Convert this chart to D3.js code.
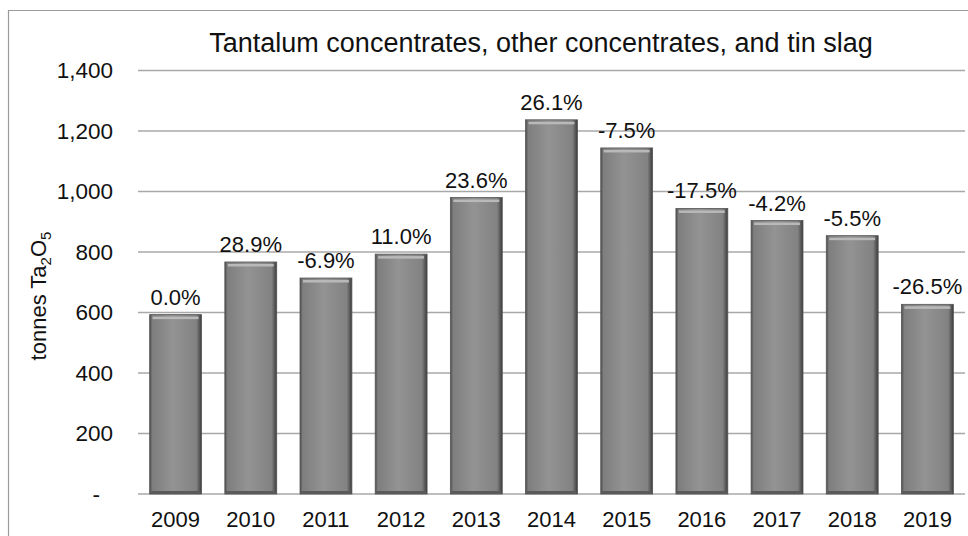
<!DOCTYPE html>
<html>
<head>
<meta charset="utf-8">
<script src="https://cdn.jsdelivr.net/npm/d3@7"></script>
<style>
  html, body { margin: 0; padding: 0; background: #fff; }
  text { font-family: Arial, "Liberation Sans", sans-serif; fill: #111; }
</style>
</head>
<body>
<svg id="chart" width="968" height="536"></svg>
<script>
// data
var years = ["2009", "2010", "2011", "2012", "2013", "2014", "2015", "2016", "2017", "2018", "2019"];
var tonnes = [593, 767, 714, 793, 980, 1237, 1144, 944, 904, 854, 627];
var changeLabels = ["0.0%", "28.9%", "-6.9%", "11.0%", "23.6%", "26.1%", "-7.5%", "-17.5%", "-4.2%", "-5.5%", "-26.5%"];
var yTicks = [0, 200, 400, 600, 800, 1000, 1200, 1400];

var svg = d3.select("#chart");

var plot = {left: 138, right: 965, top: 70.5, bottom: 494};

// outer frame (runs past the picture on right/bottom)
svg.append("path")
  .attr("d", "M8.5,540 L8.5,10.5 L975,10.5")
  .attr("fill", "none")
  .attr("stroke", "#9a9a9a")
  .attr("stroke-width", 1.2);

var x = d3.scaleBand()
  .domain(years)
  .range([plot.left, plot.right])
  .paddingInner(0.31)
  .paddingOuter(0.155);

var y = d3.scaleLinear()
  .domain([0, 1400])
  .range([plot.bottom, plot.top]);

// bar gradient
var defs = svg.append("defs");
var grad = defs.append("linearGradient").attr("id", "barGrad")
  .attr("x1", "0").attr("x2", "1").attr("y1", "0").attr("y2", "0");
grad.append("stop").attr("offset", "0%").attr("stop-color", "#4a4a4a");
grad.append("stop").attr("offset", "5%").attr("stop-color", "#7e7e7e");
grad.append("stop").attr("offset", "45%").attr("stop-color", "#939393");
grad.append("stop").attr("offset", "90%").attr("stop-color", "#828282");
grad.append("stop").attr("offset", "100%").attr("stop-color", "#3c3c3c");

// gridlines
svg.append("g").selectAll("line")
  .data(yTicks)
  .join("line")
  .attr("x1", plot.left)
  .attr("x2", plot.right)
  .attr("y1", function(d) { return y(d); })
  .attr("y2", function(d) { return y(d); })
  .attr("stroke", "#a8a8a8")
  .attr("stroke-width", 1.5);

// y tick labels
svg.append("g").selectAll("text")
  .data(yTicks)
  .join("text")
  .attr("x", function(d) { return d === 0 ? 100 : 113; })
  .attr("y", function(d) { return y(d); })
  .attr("dy", "0.35em")
  .attr("text-anchor", "end")
  .style("font-size", "22.5px")
  .text(function(d) { return d === 0 ? "-" : d3.format(",")(d); });

// bars
var bars = svg.append("g").selectAll("g")
  .data(years)
  .join("g");

bars.append("rect")
  .attr("x", function(d) { return x(d); })
  .attr("y", function(d, i) { return y(tonnes[i]); })
  .attr("width", x.bandwidth())
  .attr("height", function(d, i) { return y(0) - y(tonnes[i]); })
  .attr("fill", "url(#barGrad)")
  .attr("stroke", "#555")
  .attr("stroke-width", 0.8);

// light rim at top of each bar
bars.append("rect")
  .attr("x", function(d) { return x(d) + 3; })
  .attr("y", function(d, i) { return y(tonnes[i]) + 2; })
  .attr("width", x.bandwidth() - 6)
  .attr("height", 2.5)
  .attr("fill", "#b9b9b9");

// dark base of each bar
bars.append("rect")
  .attr("x", function(d) { return x(d) + 1; })
  .attr("y", y(0) - 3)
  .attr("width", x.bandwidth() - 2)
  .attr("height", 3)
  .attr("fill", "#5a5a5a");

// percentage labels
bars.append("text")
  .attr("x", function(d) { return x(d) + x.bandwidth() / 2; })
  .attr("y", function(d, i) { return y(tonnes[i]) - 10; })
  .attr("text-anchor", "middle")
  .style("font-size", "22px")
  .text(function(d, i) { return changeLabels[i]; });

// x axis labels
svg.append("g").selectAll("text")
  .data(years)
  .join("text")
  .attr("x", function(d) { return x(d) + x.bandwidth() / 2; })
  .attr("y", 527)
  .attr("text-anchor", "middle")
  .style("font-size", "22px")
  .text(function(d) { return d; });

// title
svg.append("text")
  .attr("x", 541)
  .attr("y", 52)
  .attr("text-anchor", "middle")
  .style("font-size", "27px")
  .text("Tantalum concentrates, other concentrates, and tin slag");

// y axis title with subscripts
var yl = svg.append("text")
  .attr("transform", "translate(46,296) rotate(-90)")
  .attr("text-anchor", "middle")
  .style("font-size", "22px");
yl.append("tspan").text("tonnes Ta");
yl.append("tspan").attr("dy", 5).style("font-size", "15px").text("2");
yl.append("tspan").attr("dy", -5).text("O");
yl.append("tspan").attr("dy", 5).style("font-size", "15px").text("5");
</script>
</body>
</html>
